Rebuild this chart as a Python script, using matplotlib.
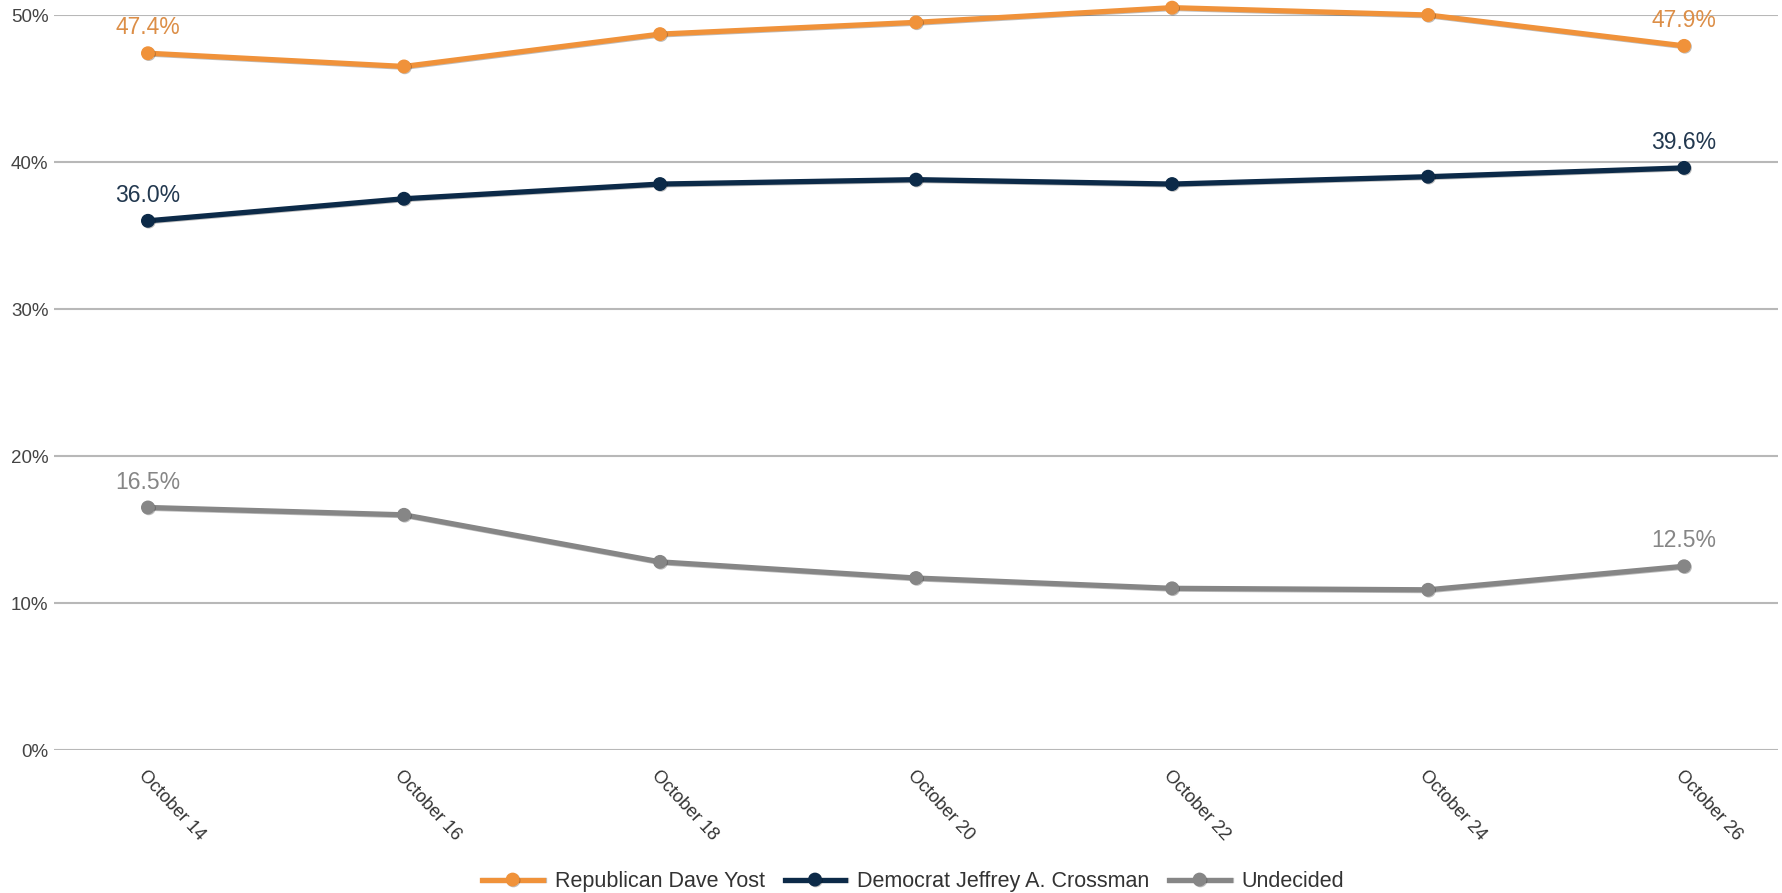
import matplotlib.pyplot as plt
import matplotlib.patheffects as pe
from matplotlib.ticker import FuncFormatter

plt.rcParams['font.family'] = ['Liberation Sans', 'DejaVu Sans']

dates = ['October 14', 'October 16', 'October 18', 'October 20',
         'October 22', 'October 24', 'October 26']
yost = [47.4, 46.5, 48.7, 49.5, 50.5, 50.0, 47.9]
crossman = [36.0, 37.5, 38.5, 38.8, 38.5, 39.0, 39.6]
undecided = [16.5, 16.0, 12.8, 11.7, 11.0, 10.9, 12.5]

series = [
    ('Republican Dave Yost', yost, '#f0923a', '#dc8e47'),
    ('Democrat Jeffrey A. Crossman', crossman, '#0c2a48', '#22384f'),
    ('Undecided', undecided, '#868686', '#868686'),
]

fig = plt.figure(figsize=(17.82, 8.93), dpi=100)
ax = fig.add_axes([0.0303, 0.1601, 0.9675, 0.8231])

x = list(range(len(dates)))
shadow = [pe.SimpleLineShadow(offset=(0.6, -0.6), alpha=0.25), pe.Normal()]
for name, vals, col, lcol in series:
    ax.plot(x, vals, color=col, lw=3.8, marker='o', markersize=9,
            label=name, clip_on=False, zorder=3, path_effects=shadow)
    # labels on first and last point only
    for i in (0, len(vals) - 1):
        ax.annotate(f'{vals[i]:.1f}%', (x[i], vals[i]), xytext=(0, 10),
                    textcoords='offset points', ha='center', va='bottom',
                    fontsize=16.5, color=lcol, zorder=4)

ax.set_xlim(-0.367, len(dates) - 1 + 0.367)
ax.set_ylim(0, 50)
ax.set_yticks([0, 10, 20, 30, 40, 50])
ax.yaxis.set_major_formatter(FuncFormatter(lambda v, p: f'{v:.0f}%'))
ax.grid(axis='y', color='#b8b8b8', lw=1.5)
ax.set_axisbelow(True)
for s in ax.spines.values():
    s.set_visible(False)
ax.tick_params(axis='y', length=0, labelsize=13.5, labelcolor='#444444', pad=4)
ax.tick_params(axis='x', length=0, labelsize=13, labelcolor='#333333', pad=12)
ax.set_xticks(x)
ax.set_xticklabels(dates, rotation=-47, ha='left', va='top', rotation_mode='anchor')

leg = ax.legend(loc='center', bbox_to_anchor=(0.4985, -0.179), ncol=3, frameon=False,
                fontsize=15.5, handlelength=2.8, columnspacing=0.93, handletextpad=0.56)
for t in leg.get_texts():
    t.set_color('#333333')

fig.savefig('out.png', dpi=100)
